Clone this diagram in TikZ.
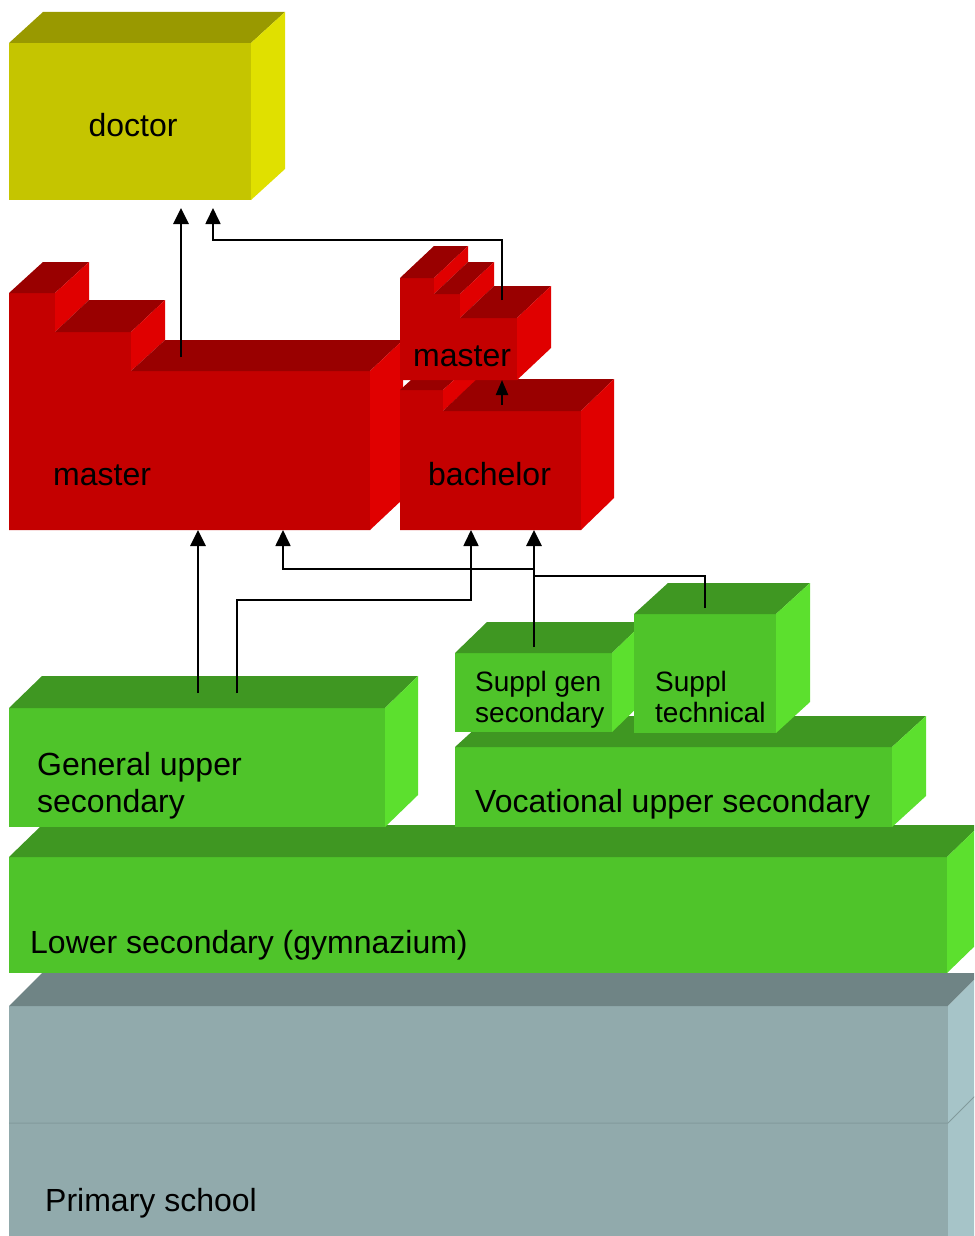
\documentclass[tikz,border=0pt]{standalone}
\usepackage{fontspec}
\setmainfont{Liberation Sans}
\usetikzlibrary{arrows.meta}
\definecolor{yfront}{HTML}{C5C500}
\definecolor{ytop}{HTML}{999900}
\definecolor{yside}{HTML}{E0E000}
\definecolor{rfront}{HTML}{C40000}
\definecolor{rtop}{HTML}{990000}
\definecolor{rside}{HTML}{E00000}
\definecolor{gfront}{HTML}{4FC42A}
\definecolor{gtop}{HTML}{3F9722}
\definecolor{gside}{HTML}{5CE02E}
\definecolor{pfront}{HTML}{91AAAC}
\definecolor{ptop}{HTML}{6F8485}
\definecolor{pside}{HTML}{A6C4C8}
\definecolor{pline}{HTML}{829A9C}
\tikzset{
  conn/.style={line width=1.7pt},
  mainconn/.style={line width=2.8pt},
  tipped/.style={-{Triangle[length=16pt,width=15pt]}},
  lbl/.style={anchor=base west,inner sep=0pt,font=\fontsize{32pt}{38pt}\selectfont},
  slbl/.style={anchor=base west,inner sep=0pt,font=\fontsize{28pt}{32pt}\selectfont},
}
% simple oblique box: x1 y1 x2 y2 dx dy front top side
\newcommand\obox[9]{%
  \fill[#7] (#1,#2) rectangle (#3,#4);
  \fill[#8] (#1,#2) -- (#3,#2) -- ({#3+#5},{#2-#6}) -- ({#1+#5},{#2-#6}) -- cycle;
  \fill[#9] (#3,#2) -- ({#3+#5},{#2-#6}) -- ({#3+#5},{#4-#6}) -- (#3,#4) -- cycle;
}
\begin{document}
\begin{tikzpicture}[x=1pt,y=-1pt]
\useasboundingbox (0,0) rectangle (974,1236);
\clip (0,0) rectangle (974,1236);

% ---------- primary school ----------
\obox{9}{1006}{948}{1300}{33}{33}{pfront}{ptop}{pside}
\draw[pline,line width=1pt] (9,1123) -- (948,1123) -- (981,1090);
\node[lbl] (primary) at (45,1211) {Primary school};

% ---------- lower secondary ----------
\obox{9}{857}{947}{973}{33}{32}{gfront}{gtop}{gside}
\node[lbl] (lower) at (30,953) {Lower secondary (gymnazium)};

% ---------- general upper secondary ----------
\obox{9}{708}{385}{827}{33}{32}{gfront}{gtop}{gside}
\node[lbl] (gen1) at (37,775) {General upper};
\node[lbl] (gen2) at (37,812.5) {secondary};

% ---------- vocational upper secondary ----------
\obox{455}{747}{892}{827}{34}{31}{gfront}{gtop}{gside}
\node[lbl] (voc) at (475,812) {Vocational upper secondary};

% ---------- suppl gen secondary ----------
\obox{455}{653}{612}{732}{32}{31}{gfront}{gtop}{gside}
\node[slbl] (sg1) at (475,691) {Suppl gen};
\node[slbl] (sg2) at (475,722) {secondary};

% ---------- suppl technical ----------
\obox{634}{614}{776}{733}{34}{31}{gfront}{gtop}{gside}
\node[slbl] (st1) at (655,691) {Suppl};
\node[slbl] (st2) at (655,722) {technical};

% ---------- big master (stepped) ----------
\fill[rfront] (9,293) -- (55,293) -- (55,332) -- (131,332) -- (131,371) -- (370,371) -- (370,530) -- (9,530) -- cycle;
\fill[rtop]  (9,293) -- (55,293) -- (89,262) -- (43,262) -- cycle;
\fill[rside] (55,293) -- (89,262) -- (89,300) -- (55,332) -- cycle;
\fill[rtop]  (55,332) -- (131,332) -- (165,300) -- (89,300) -- cycle;
\fill[rside] (131,332) -- (165,300) -- (165,340) -- (131,371) -- cycle;
\fill[rtop]  (131,371) -- (370,371) -- (403,340) -- (165,340) -- cycle;
\fill[rside] (370,371) -- (403,340) -- (403,499) -- (370,530) -- cycle;
\node[lbl] (master1) at (53,485) {master};

% ---------- bachelor ----------
\fill[rfront] (400,390) -- (443,390) -- (443,411) -- (581,411) -- (581,530) -- (400,530) -- cycle;
\fill[rtop]  (400,390) -- (443,390) -- (477,359) -- (434,359) -- cycle;
\fill[rside] (443,390) -- (477,359) -- (477,380) -- (443,411) -- cycle;
\fill[rtop]  (443,411) -- (581,411) -- (614,379) -- (477,379) -- cycle;
\fill[rside] (581,411) -- (614,379) -- (614,498) -- (581,530) -- cycle;
\node[lbl] (bachelor) at (428,485) {bachelor};

% ---------- small master ----------
\fill[rfront] (400,278) -- (434,278) -- (434,294) -- (460,294) -- (460,318) -- (517,318) -- (517,380) -- (400,380) -- cycle;
\fill[rtop]  (400,278) -- (434,278) -- (468,246) -- (434,246) -- cycle;
\fill[rside] (434,278) -- (468,246) -- (468,262) -- (434,294) -- cycle;
\fill[rtop]  (434,294) -- (460,294) -- (494,262) -- (468,262) -- cycle;
\fill[rside] (460,294) -- (494,262) -- (494,286) -- (460,318) -- cycle;
\fill[rtop]  (460,318) -- (517,318) -- (551,286) -- (494,286) -- cycle;
\fill[rside] (517,318) -- (551,286) -- (551,348) -- (517,380) -- cycle;
\node[lbl] (master2) at (413,366.5) {master};

% ---------- doctor ----------
\obox{9}{43}{251}{200}{34}{31}{yfront}{ytop}{yside}
\node[lbl,anchor=base] (doctor) at (133,136) {doctor};

% ---------- connector end points ----------
\coordinate (docA) at (181,208);
\coordinate (docB) at (213,208);
\coordinate (docjog) at (0,240);
\coordinate (bmtop) at (181,357);
\coordinate (smtop) at (502,300);
\coordinate (smbot) at (502,380);
\coordinate (batop) at (502,405);
\coordinate (bmA) at (198,530);
\coordinate (bmB) at (283,530);
\coordinate (baA) at (471,530);
\coordinate (baB) at (534,530);
\coordinate (guA) at (198,693);
\coordinate (guB) at (237,693);
\coordinate (sgtop) at (534,647);
\coordinate (sttop) at (705,608);
\coordinate (j569) at (0,569);
\coordinate (j576) at (0,576);
\coordinate (j600) at (0,600);

% ---------- connectors ----------
\draw[mainconn,tipped] (bmtop) -- (docA);
\draw[conn,tipped] (smtop) -- (smtop |- docjog) -- (docB |- docjog) -- (docB);
\draw[conn,line width=2.2pt,-{Triangle[length=15pt,width=12pt]}] (batop) -- (smbot);
\draw[mainconn,tipped] (guA) -- (bmA);
\draw[conn,tipped] (guB) -- (guB |- j600) -- (baA |- j600) -- (baA);
\draw[mainconn,tipped] (sgtop) -- (baB);
\draw[conn,tipped] (baB |- j569) -- (bmB |- j569) -- (bmB);
\draw[conn] (sttop) -- (sttop |- j576) -- (baB |- j576);
\end{tikzpicture}
\end{document}
